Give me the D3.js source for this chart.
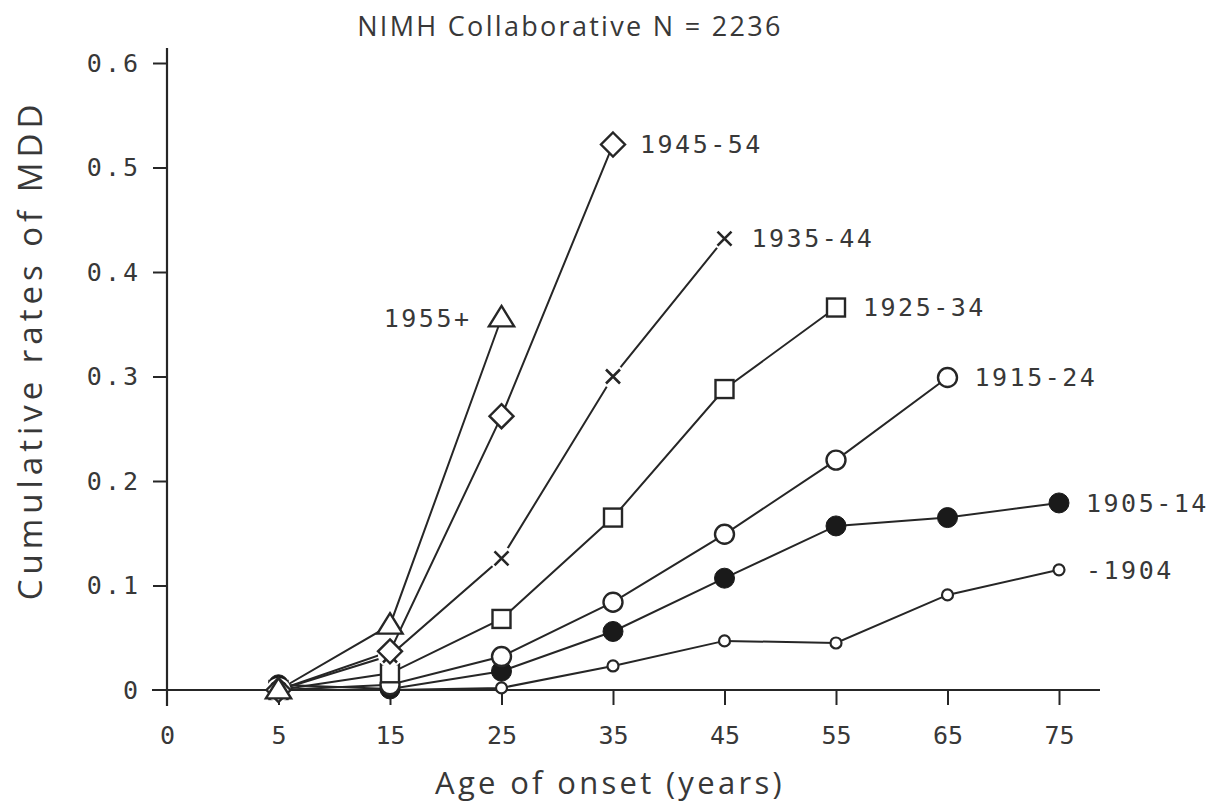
<!DOCTYPE html>
<html><head><meta charset="utf-8">
<script src="https://cdn.jsdelivr.net/npm/d3@7"></script>
<style>
body{margin:0;background:#fff;}
text{fill:#383838;}
</style></head>
<body>
<svg id="chart" width="1209" height="807"></svg>
<script>
const xCategories = ["0","5","15","25","35","45","55","65","75"];
const ages = ["5","15","25","35","45","55","65","75"];
const yTicks = [0, 0.1, 0.2, 0.3, 0.4, 0.5, 0.6];
const yTickLabels = ["0","0.1","0.2","0.3","0.4","0.5","0.6"];

const cohortNames = ["1955+","1945-54","1935-44","1925-34","1915-24","1905-14","-1904"];
const cohort1955 = [0, 0.062, 0.356];
const cohort1945 = [0, 0.037, 0.262, 0.522];
const cohort1935 = [0, 0.033, 0.126, 0.300, 0.432];
const cohort1925 = [0, 0.016, 0.068, 0.165, 0.288, 0.366];
const cohort1915 = [0, 0.005, 0.032, 0.084, 0.149, 0.220, 0.299];
const cohort1905 = [0.005, 0.001, 0.018, 0.056, 0.107, 0.157, 0.165, 0.179];
const cohort1904 = [0, 0, 0.002, 0.023, 0.047, 0.045, 0.091, 0.115];

const title = "NIMH Collaborative N = 2236";
const xTitle = "Age of onset (years)";
const yTitle = "Cumulative rates of MDD";

const series = [
  {name: cohortNames[0], values: cohort1955, marker: "triangle", labelSide: "left"},
  {name: cohortNames[1], values: cohort1945, marker: "diamond"},
  {name: cohortNames[2], values: cohort1935, marker: "cross"},
  {name: cohortNames[3], values: cohort1925, marker: "square"},
  {name: cohortNames[4], values: cohort1915, marker: "circle"},
  {name: cohortNames[5], values: cohort1905, marker: "filled"},
  {name: cohortNames[6], values: cohort1904, marker: "small"}
];

const svg = d3.select("#chart");
const ink = "#262626";
const x = d3.scalePoint().domain(xCategories).range([167, 1059]);
const y = d3.scaleLinear().domain([0, 0.6]).range([690, 63]);
const monoFont = "'DejaVu Sans Mono', monospace";
const sansFont = "'Open Sans', sans-serif";

// axes
svg.append("line").attr("x1",152).attr("x2",1100).attr("y1",y(0)).attr("y2",y(0))
  .attr("stroke",ink).attr("stroke-width",2.2);
svg.append("line").attr("x1",x("0")).attr("x2",x("0")).attr("y1",48).attr("y2",706)
  .attr("stroke",ink).attr("stroke-width",2.2);

const xAxis = d3.axisBottom(x).tickSize(15).tickSizeOuter(0).tickPadding(26);
const gx = svg.append("g").attr("transform",`translate(0,${y(0)})`).call(xAxis);
gx.select(".domain").remove();
gx.selectAll(".tick line").attr("stroke",ink).attr("stroke-width",2)
  .filter(d => d === "0").remove();
gx.selectAll(".tick text").attr("font-family",monoFont).attr("font-size",25)
  .attr("fill","#3a3a3a").attr("dy","0.5em");

const yAxis = d3.axisLeft(y).tickValues(yTicks).tickSize(14).tickPadding(12)
  .tickFormat((d,i) => yTickLabels[i]);
const gy = svg.append("g").attr("transform",`translate(${x("0")},0)`).call(yAxis);
gy.select(".domain").remove();
gy.selectAll(".tick line").attr("stroke",ink).attr("stroke-width",2)
  .filter(d => d === 0).remove();
gy.selectAll(".tick text").attr("font-family",monoFont).attr("font-size",25)
  .attr("fill","#3a3a3a").attr("letter-spacing",3);

// titles
svg.append("text").attr("x",570).attr("y",36).attr("text-anchor","middle")
  .attr("font-family",sansFont).attr("font-size",27).attr("letter-spacing",2.3).text(title);
svg.append("text").attr("x",610).attr("y",794).attr("text-anchor","middle")
  .attr("font-family",sansFont).attr("font-size",31).attr("letter-spacing",3.3).text(xTitle);
svg.append("text").attr("transform","translate(42,350) rotate(-90)").attr("text-anchor","middle")
  .attr("font-family",sansFont).attr("font-size",33).attr("letter-spacing",5).text(yTitle);

const line = d3.line().x((d,i) => x(ages[i])).y(d => y(d));

series.forEach(s => {
  svg.append("path").datum(s.values).attr("d", line)
    .attr("fill","none").attr("stroke",ink).attr("stroke-width",2);
});

function drawMarker(g, type, cx, cy) {
  if (type === "triangle") {
    const s = 12;
    g.append("path").attr("d",`M${cx},${cy-s}L${cx+s*1.05},${cy+s*0.7}L${cx-s*1.05},${cy+s*0.7}Z`)
      .attr("fill","#fff").attr("stroke",ink).attr("stroke-width",2.4);
  } else if (type === "diamond") {
    const s = 12;
    g.append("path").attr("d",`M${cx},${cy-s}L${cx+s},${cy}L${cx},${cy+s}L${cx-s},${cy}Z`)
      .attr("fill","#fff").attr("stroke",ink).attr("stroke-width",2.4);
  } else if (type === "cross") {
    g.append("circle").attr("cx",cx).attr("cy",cy).attr("r",12).attr("fill","#fff");
    const s = 7;
    g.append("path").attr("d",`M${cx-s},${cy-s}L${cx+s},${cy+s}M${cx-s},${cy+s}L${cx+s},${cy-s}`)
      .attr("stroke",ink).attr("stroke-width",2.6);
  } else if (type === "square") {
    const s = 9;
    g.append("rect").attr("x",cx-s).attr("y",cy-s).attr("width",2*s).attr("height",2*s)
      .attr("fill","#fff").attr("stroke",ink).attr("stroke-width",2.4);
  } else if (type === "circle") {
    g.append("circle").attr("cx",cx).attr("cy",cy).attr("r",9.5)
      .attr("fill","#fff").attr("stroke",ink).attr("stroke-width",2.4);
  } else if (type === "filled") {
    g.append("circle").attr("cx",cx).attr("cy",cy).attr("r",10)
      .attr("fill","#1a1a1a").attr("stroke","#1a1a1a").attr("stroke-width",1);
  } else if (type === "small") {
    g.append("circle").attr("cx",cx).attr("cy",cy).attr("r",5.5)
      .attr("fill","#fff").attr("stroke",ink).attr("stroke-width",2.2);
  }
}

// draw markers from oldest cohort to newest so the top ones stay visible
series.slice().reverse().forEach(s => {
  const g = svg.append("g");
  s.values.forEach((v,i) => drawMarker(g, s.marker, x(ages[i]), y(v)));
  const last = s.values.length - 1;
  const lx = x(ages[last]), ly = y(s.values[last]);
  const left = s.labelSide === "left";
  svg.append("text").attr("x", left ? lx - 30 : lx + 27).attr("y", ly)
    .attr("dy","0.35em").attr("text-anchor", left ? "end" : "start")
    .attr("font-family",monoFont).attr("font-size",25).attr("letter-spacing",2.5)
    .text(s.name);
});
</script>
</body></html>
